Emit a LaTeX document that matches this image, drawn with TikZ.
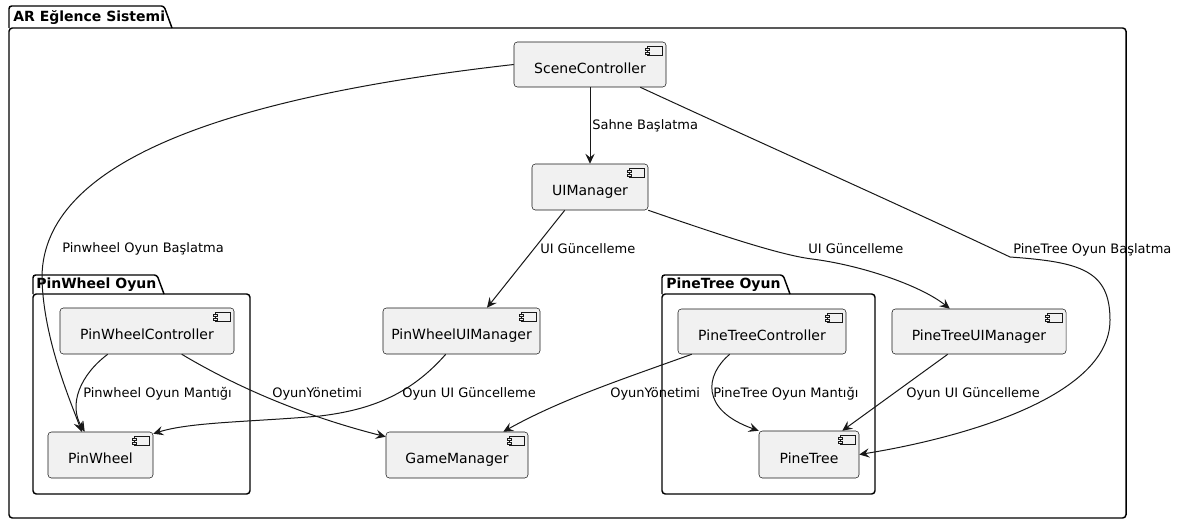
\documentclass[tikz,border=0pt]{standalone}
\usepackage{fontspec}
\setmainfont{DejaVu Sans}
\usetikzlibrary{arrows.meta,calc}
\definecolor{nodefill}{HTML}{F1F1F1}
\definecolor{ink}{HTML}{181818}
\tikzset{
  comp/.style={draw=ink, fill=nodefill, line width=0.4pt, rounded corners=2.5pt,
    inner sep=0pt, font=\fontsize{10.5pt}{12pt}\selectfont,
    text height=14.8pt, text depth=2pt, minimum height=34.5pt},
  conn/.style={draw=ink, line width=0.75pt,
    -{Stealth[length=7.5pt,width=7pt,inset=2.8pt]}},
  lbl/.style={anchor=west, inner sep=0pt, font=\fontsize{9.75pt}{11pt}\selectfont, text=black},
  pkg/.style={draw=black, line width=1.1pt},
  pkgtitle/.style={anchor=west, inner sep=0pt, font=\fontsize{10.5pt}{12pt}\selectfont\bfseries},
  iconst/.style={draw=ink, fill=nodefill, line width=0.4pt}
}
\newcommand\compicon[1]{%
  \draw[iconst] ($(#1.north east)+(-19,5)$) rectangle ($(#1.north east)+(-4,14)$);
  \draw[iconst] ($(#1.north east)+(-21,7)$) rectangle ($(#1.north east)+(-17,9)$);
  \draw[iconst] ($(#1.north east)+(-21,10.5)$) rectangle ($(#1.north east)+(-17,12.5)$);
}
\begin{document}
\begin{tikzpicture}[x=0.75pt,y=-0.75pt]
\useasboundingbox (0,0) rectangle (1180,524);
\fill[white] (0,0) rectangle (1180,524);

% outer package
\draw[pkg, rounded corners=2pt] (9,28) |- (164,6) -- (172,28);
\draw[pkg, rounded corners=2.5pt] (9,28) rectangle (1126,518);
\node[pkgtitle] (tOuter) at (13,17.5) {AR Eğlence Sistemi};

% PinWheel Oyun package
\draw[pkg, rounded corners=2pt] (33,294) |- (157,275) -- (164,294);
\draw[pkg, rounded corners=2.5pt] (33,294) rectangle (250,494);
\node[pkgtitle] (tPW) at (36,285) {PinWheel Oyun};

% PineTree Oyun package
\draw[pkg, rounded corners=2pt] (662,294) |- (783,275) -- (790,294);
\draw[pkg, rounded corners=2.5pt] (662,294) rectangle (875,494);
\node[pkgtitle] (tPT) at (666,285) {PineTree Oyun};

% components
\node[comp, minimum width=114pt, minimum height=33.75pt] (sc) at (590,64.5) {SceneController\hspace{7.5pt}};
\node[comp, minimum width=87pt] (ui) at (590,187) {UIManager\hspace{7.5pt}};
\node[comp, minimum width=130.5pt] (pwc) at (147,331) {PinWheelController\hspace{7.5pt}};
\node[comp, minimum width=78.75pt] (pw) at (100.5,455) {PinWheel\hspace{7.5pt}};
\node[comp, minimum width=117.75pt] (pwui) at (461.5,331) {PinWheelUIManager\hspace{7.5pt}};
\node[comp, minimum width=106.5pt] (gm) at (457,455) {GameManager\hspace{7.5pt}};
\node[comp, minimum width=126pt, minimum height=33.75pt] (ptc) at (762,331.5) {PineTreeController\hspace{7.5pt}};
\node[comp, minimum width=130.5pt, minimum height=33.75pt] (ptui) at (979,331.5) {PineTreeUIManager\hspace{7.5pt}};
\node[comp, minimum width=75pt, minimum height=35.25pt] (pt) at (809,454.5) {PineTree\hspace{7.5pt}};
\foreach \n in {sc,ui,pwc,pw,pwui,gm,ptc,ptui,pt} {\compicon{\n}}

% connectors
\draw[conn] (sc.south) -- (ui.north);
\node[lbl] (l1) at (592,126) {Sahne Başlatma};

\draw[conn] (sc.west) .. controls (200,100) and (40,170) .. (42,280)
  .. controls (44,340) and (70,400) .. ($(pw.north west)+(34,0)$);
\node[lbl] (l2) at (62,249) {Pinwheel Oyun Başlatma};

\draw[conn] ($(sc.south east)+(-26,0)$) .. controls (763,144) and (900,205) .. (1010,257)
  .. controls (1080,262) and (1110,270) .. (1110,320)
  .. controls (1110,400) and (950,440) .. (pt.east);
\node[lbl] (l3) at (1013,250) {PineTree Oyun Başlatma};

\draw[conn] ($(ui.south west)+(33,0)$) -- ($(pwui.north)+(25.5,0)$);
\node[lbl] (l4) at (540,249) {UI Güncelleme};

\draw[conn] (ui.south east) .. controls (720,235) and (780,255) .. (812,259)
  .. controls (860,265) and (920,285) .. ($(ptui.north west)+(58,0)$);
\node[lbl] (l5) at (808,249) {UI Güncelleme};

\draw[conn] ($(pwc.south west)+(48,0)$) .. controls (80,375) and (68,405) .. ($(pw.north west)+(37,0)$);
\node[lbl] (l6) at (83,394) {Pinwheel Oyun Mantığı};

\draw[conn] ($(pwc.south west)+(122,0)$) .. controls (250,395) and (320,420) .. ($(gm.north west)+(0,5)$);
\node[lbl] (l7) at (272,394) {OyunYönetimi};

\draw[conn] ($(pwui.south west)+(63,0)$) .. controls (410,395) and (370,410) .. (320,416)
  .. controls (250,422) and (190,422) .. ($(pw.north east)+(0,2)$);
\node[lbl] (l8) at (402,394) {Oyun UI Güncelleme};

\draw[conn] ($(ptc.south west)+(14,0)$) .. controls (620,380) and (560,400) .. ($(gm.north east)+(-25,0)$);
\node[lbl] (l9) at (610,394) {OyunYönetimi};

\draw[conn] ($(ptc.south west)+(52,0)$) .. controls (705,375) and (700,410) .. (pt.north west);
\node[lbl] (l10) at (713,394) {PineTree Oyun Mantığı};

\draw[conn] ($(ptui.south west)+(56,0)$) -- ($(pt.north east)+(-17,0)$);
\node[lbl] (l11) at (906,394) {Oyun UI Güncelleme};
\end{tikzpicture}
\end{document}
